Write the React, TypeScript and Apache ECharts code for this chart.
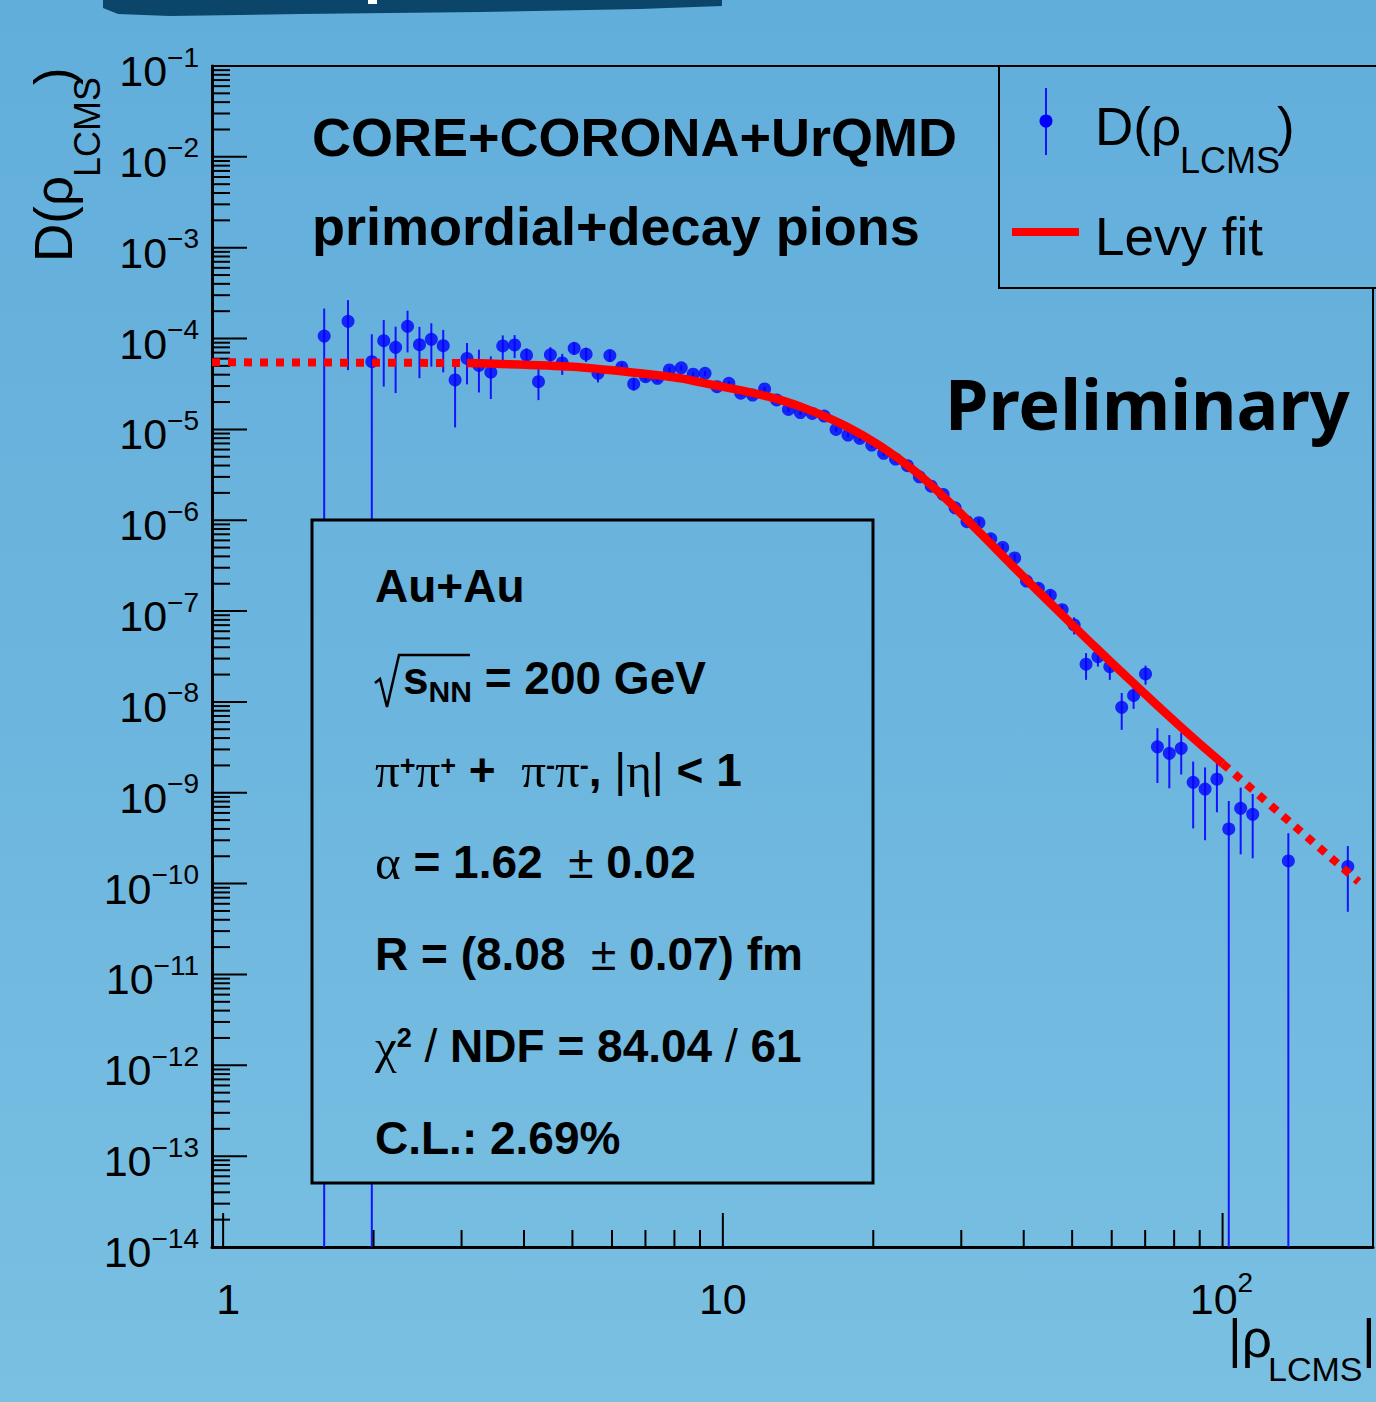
import React, { useEffect, useRef } from "react";
import * as echarts from "echarts";

// ---- axis ranges ----
const X_MIN = 0.95;
const X_MAX = 200;
const Y_MIN = 1e-14;
const Y_MAX = 1e-1;

// ---- measured D(rho_LCMS): bin centres, values, symmetric errors ----
const RHO_BINS = [
  1.593, 1.778, 1.984, 2.096, 2.214, 2.339, 2.471, 2.61, 2.757, 2.912,
  3.076, 3.25, 3.433, 3.627, 3.831, 4.047, 4.276, 4.517, 4.771, 5.04,
  5.325, 5.625, 5.942, 6.277, 6.631, 7.004, 7.4, 7.816, 8.257, 8.722,
  9.213, 9.734, 10.28, 10.86, 11.47, 12.12, 12.81, 13.53, 14.29, 15.1,
  15.95, 16.85, 17.8, 18.8, 19.86, 20.98, 22.16, 23.41, 24.73, 26.12,
  27.6, 29.16, 30.8, 32.54, 34.37, 36.31, 38.36, 40.52, 42.81, 45.22,
  47.75, 50.46, 53.31, 56.31, 59.48, 62.83, 66.37, 70.12, 74.07, 78.24,
  82.65, 87.33, 92.25, 97.43, 102.9, 108.7, 114.9, 135.4, 178.1,
];
const D_VALUES = [
  1.066e-4, 1.549e-4, 5.56e-5, 9.46e-5, 8.01e-5, 1.364e-4, 8.56e-5, 9.81e-5, 8.34e-5, 3.5e-5,
  6.03e-5, 5.05e-5, 4.26e-5, 8.28e-5, 8.5e-5, 6.56e-5, 3.35e-5, 6.62e-5, 5.38e-5, 7.81e-5,
  6.73e-5, 4.14e-5, 6.49e-5, 4.83e-5, 3.16e-5, 3.8e-5, 3.65e-5, 4.51e-5, 4.76e-5, 4.05e-5,
  4.14e-5, 2.95e-5, 3.21e-5, 2.5e-5, 2.39e-5, 2.79e-5, 2.11e-5, 1.66e-5, 1.53e-5, 1.5e-5,
  1.4e-5, 1.0e-5, 8.67e-6, 7.98e-6, 6.73e-6, 5.46e-6, 4.72e-6, 3.98e-6, 3.01e-6, 2.37e-6,
  1.92e-6, 1.37e-6, 9.64e-7, 9.4e-7, 6.25e-7, 5.01e-7, 3.85e-7, 2.14e-7, 1.78e-7, 1.49e-7,
  1.035e-7, 7.03e-8, 2.6e-8, 3.15e-8, 2.44e-8, 8.73e-9, 1.178e-8, 2.03e-8, 3.21e-9, 2.72e-9,
  3.09e-9, 1.305e-9, 1.1e-9, 1.41e-9, 4.0e-10, 6.75e-10, 5.8e-10, 1.775e-10, 1.54e-10,
];
const D_ERRORS = [
  1.07e-4, 1.1e-4, 5.6e-5, 6.5e-5, 5.5e-5, 6.6e-5, 4.9e-5, 4.9e-5, 4.1e-5, 2.45e-5,
  2.9e-5, 2.5e-5, 2.1e-5, 2.55e-5, 2.4e-5, 1.25e-5, 1.25e-5, 1.4e-5, 1.4e-5, 1.2e-5,
  1.2e-5, 8.5e-6, 9.5e-6, 5.5e-6, 4.8e-6, 4.0e-6, 3.5e-6, 3.0e-6, 3.0e-6, 2.5e-6,
  2.5e-6, 2.0e-6, 2.0e-6, 1.5e-6, 1.5e-6, 1.5e-6, 1.2e-6, 1.0e-6, 9.0e-7, 9.0e-7,
  8.0e-7, 6.0e-7, 5.0e-7, 5.0e-7, 4.5e-7, 3.8e-7, 3.3e-7, 3.0e-7, 2.4e-7, 1.9e-7,
  1.6e-7, 1.2e-7, 9.0e-8, 9.0e-8, 6.0e-8, 5.0e-8, 4.2e-8, 2.6e-8, 2.2e-8, 1.9e-8,
  1.2e-8, 1.5e-8, 8.5e-9, 7.0e-9, 6.9e-9, 3.8e-9, 3.4e-9, 4.8e-9, 1.93e-9, 1.6e-9,
  1.5e-9, 9.0e-10, 8.0e-10, 8.0e-10, 4.1e-10, 4.65e-10, 3.9e-10, 1.8e-10, 1.05e-10,
];

// ---- Levy fit: solid inside the fit range, dotted outside ----
const FIT_X = [
  3.075, 5.02, 6.84, 8.22, 9.57, 11.18, 13.03, 15.18, 17.73, 20.67,
  24.07, 28.11, 32.78, 38.16, 44.57, 55.26, 64.45, 75.12, 87.62, 100,
];
const FIT_Y = [
  5.38e-5, 4.9e-5, 4.14e-5, 3.65e-5, 3.08e-5, 2.6e-5, 2.11e-5, 1.57e-5, 1.07e-5, 6.56e-6,
  3.57e-6, 1.67e-6, 7.18e-7, 3.08e-7, 1.32e-7, 4.16e-8, 1.862e-8, 8.49e-9, 3.94e-9, 2.1e-9,
];
const FIT_LOW_X = [0.95, 3.075];
const FIT_LOW_Y = [5.48e-5, 5.38e-5];
const FIT_HIGH_X = [100, 187.2];
const FIT_HIGH_Y = [2.1e-9, 1.05e-10];

// ---- tick labels ----
const X_MAJOR = [1, 10, 100];
const X_TICK_BASE = ["1", "10", "10"];
const X_TICK_SUP = ["", "", "2"];
const X_TICK_DX = [5, 0, 1];
const Y_EXPONENTS = [-14, -13, -12, -11, -10, -9, -8, -7, -6, -5, -4, -3, -2, -1];
const Y_TICK_SUP = ["−14", "−13", "−12", "−11", "−10", "−9", "−8", "−7", "−6", "−5", "−4", "−3", "−2", "−1"];

// ---- annotation text ----
const HEADER_LINES = ["CORE+CORONA+UrQMD", "primordial+decay pions"];
const LEGEND_DATA = "D(ρ";
const LEGEND_SUB = "LCMS";
const LEGEND_FIT = "Levy fit";
const WATERMARK = "Preliminary";

const BG_STOPS = [
  { offset: 0, color: "#62aedb" },
  { offset: 0.5, color: "#6cb5de" },
  { offset: 1, color: "#79c0e2" },
];
const BG_CSS = "linear-gradient(180deg, #62aedb 0%, #6cb5de 50%, #79c0e2 100%)";
const BG_FILL = { type: "linear", x: 0, y: 0, x2: 0, y2: 1402, global: true, colorStops: BG_STOPS };

const SANS = "Liberation Sans";
const SERIF = "Liberation Serif";
const BLUE = "#0000ff";
const RED = "#ff0000";

const Y_TICK_RICH = {
  b: { fontFamily: SANS, fontSize: 43, lineHeight: 56, fill: "#000" },
  s: { fontFamily: SANS, fontSize: 28, lineHeight: 28, verticalAlign: "top", fill: "#000" },
};

const BOX_RICH = {
  b: { fontFamily: SANS, fontWeight: "bold", fontSize: 46, lineHeight: 56, fill: "#000" },
  n: { fontFamily: SANS, fontSize: 46, lineHeight: 56, fill: "#000" },
  g: { fontFamily: SERIF, fontSize: 49, lineHeight: 56, fill: "#000" },
  sp: { fontFamily: SANS, fontWeight: "bold", fontSize: 27, verticalAlign: "middle", padding: [0, 0, 8, 0], fill: "#000" },
  sq: { fontFamily: SANS, fontWeight: "bold", fontSize: 27, verticalAlign: "middle", padding: [0, 0, 16, 0], fill: "#000" },
  sub: { fontFamily: SANS, fontWeight: "bold", fontSize: 30, lineHeight: 22, verticalAlign: "bottom", fill: "#000" },
};

const STATS_LINES = [
  { x: 375, y: 586, text: "{b|Au+Au}" },
  { x: 403, y: 678, text: "{b|s}{sub|NN}{b| = 200 GeV}" },
  { x: 375, y: 770, text: "{g|π}{sp|+}{g|π}{sp|+}{b| + }{n| }{g|π}{sp|-}{g|π}{sp|-}{b|, }{n||}{g|η}{n||}{b| < 1}" },
  { x: 375, y: 862, text: "{g|α}{b| = 1.62 }{n| ±}{b| 0.02}" },
  { x: 375, y: 954, text: "{b|R = (8.08 }{n| ±}{b| 0.07) fm}" },
  { x: 375, y: 1046, text: "{g|χ}{sq|2}{n| / }{b|NDF = 84.04 }{n|/}{b| 61}" },
  { x: 375, y: 1138, text: "{b|C.L.: 2.69%}" },
];

function tickLine(x1: number, y1: number, x2: number, y2: number) {
  return { type: "line", shape: { x1, y1, x2, y2 }, style: { stroke: "#000", lineWidth: 2 } };
}

function plainText(x: number, y: number, text: string, size: number, align: string) {
  return {
    type: "text",
    x,
    y,
    style: { text, fontFamily: SANS, fontSize: size, fill: "#000", align, verticalAlign: "middle" },
  };
}

// Ticks and labels of the ROOT-style frame, placed through the axis scales.
function renderFrame(_params: any, api: any) {
  const children: any[] = [];
  for (let i = 0; i < Y_EXPONENTS.length; i++) {
    const e = Y_EXPONENTS[i];
    const v = Math.pow(10, e);
    const p = api.coord([X_MIN, v]);
    children.push(tickLine(p[0], p[1], p[0] + 35, p[1]));
    children.push({
      type: "text",
      x: p[0] - 13,
      y: p[1] + 5,
      style: { text: `{b|10}{s|${Y_TICK_SUP[i]}}`, align: "right", verticalAlign: "middle", rich: Y_TICK_RICH },
    });
    if (e < Math.log10(Y_MAX)) {
      for (let m = 2; m <= 9; m++) {
        const q = api.coord([X_MIN, m * v]);
        children.push(tickLine(q[0], q[1], q[0] + 18, q[1]));
      }
    }
  }
  for (let i = 0; i < X_MAJOR.length; i++) {
    const v = X_MAJOR[i];
    const p = api.coord([v, Y_MIN]);
    children.push(tickLine(p[0], p[1], p[0], p[1] - 34));
    if (X_TICK_SUP[i]) {
      children.push(plainText(p[0] + 15, p[1] + 52, X_TICK_BASE[i], 43, "right"));
      children.push(plainText(p[0] + 15, p[1] + 35, X_TICK_SUP[i], 28, "left"));
    } else {
      children.push(plainText(p[0] + X_TICK_DX[i], p[1] + 52, X_TICK_BASE[i], 43, "center"));
    }
    for (let m = 2; m <= 9; m++) {
      if (m * v >= X_MAX) continue;
      const q = api.coord([m * v, Y_MIN]);
      children.push(tickLine(q[0], q[1], q[0], q[1] - 17));
    }
  }
  return { type: "group", children };
}

function renderErrorBar(_params: any, api: any) {
  const x = api.value(0);
  const y = api.value(1);
  const e = api.value(2);
  const lo = y - e > Y_MIN ? y - e : Y_MIN;
  const top = api.coord([x, y + e]);
  const bot = api.coord([x, lo]);
  return {
    type: "line",
    shape: { x1: top[0], y1: top[1], x2: bot[0], y2: bot[1] },
    style: { stroke: "#1414ff", lineWidth: 2 },
  };
}

function buildOption() {
  const points = RHO_BINS.map((x, i) => [x, D_VALUES[i], D_ERRORS[i]]);
  const pair = (xs: number[], ys: number[]) => xs.map((x, i) => [x, ys[i]]);

  const txt = (x: number, y: number, text: string, size: number, extra: any = {}) => ({
    type: "text",
    x,
    y,
    z: 60,
    ...extra,
    style: {
      text,
      fontFamily: SANS,
      fontSize: size,
      fill: "#000",
      align: "left",
      verticalAlign: "middle",
      ...(extra.style || {}),
    },
  });

  return {
    animation: false,
    grid: {
      left: 212,
      right: 3,
      top: 66,
      bottom: 155,
      show: true,
      borderColor: "#000",
      borderWidth: 2,
      backgroundColor: "transparent",
      containLabel: false,
      outerBoundsMode: "none",
    },
    xAxis: {
      type: "log",
      logBase: 10,
      min: X_MIN,
      max: X_MAX,
      axisLine: { show: true, lineStyle: { color: "#000", width: 3 } },
      axisTick: { show: false },
      axisLabel: { show: false },
      splitLine: { show: false },
    },
    yAxis: {
      type: "log",
      logBase: 10,
      min: Y_MIN,
      max: Y_MAX,
      axisLine: { show: true, lineStyle: { color: "#000", width: 3 } },
      axisTick: { show: false },
      axisLabel: { show: false },
      splitLine: { show: false },
    },
    series: [
      {
        type: "custom",
        name: "frame",
        silent: true,
        clip: false,
        z: 5,
        data: [[1, 1e-7]],
        renderItem: renderFrame,
      },
      {
        type: "custom",
        name: "errors",
        silent: true,
        clip: false,
        z: 3,
        dimensions: ["x", "y", "err"],
        encode: { x: 0, y: 1 },
        data: points,
        renderItem: renderErrorBar,
      },
      {
        type: "scatter",
        name: "D",
        symbol: "circle",
        symbolSize: 13,
        itemStyle: { color: BLUE },
        z: 4,
        data: points.map((p) => [p[0], p[1]]),
      },
      {
        type: "line",
        name: "fit-low",
        showSymbol: false,
        z: 6,
        lineStyle: { color: RED, width: 8, type: [8, 8], cap: "butt" },
        data: pair(FIT_LOW_X, FIT_LOW_Y),
      },
      {
        type: "line",
        name: "fit",
        showSymbol: false,
        smooth: 0.25,
        z: 6,
        lineStyle: { color: RED, width: 8.5, cap: "butt" },
        data: pair(FIT_X, FIT_Y),
      },
      {
        type: "line",
        name: "fit-high",
        showSymbol: false,
        z: 6,
        lineStyle: { color: RED, width: 8, type: [8, 8], cap: "butt" },
        data: pair(FIT_HIGH_X, FIT_HIGH_Y),
      },
    ],
    graphic: [
      // slide banner edge at the top
      {
        type: "polygon",
        z: 1,
        shape: {
          points: [
            [103, 0], [722, 0], [722, 6], [640, 9], [480, 12], [300, 14], [170, 16], [118, 14], [103, 8],
          ],
        },
        style: { fill: "#0b456a" },
      },
      { type: "rect", z: 2, shape: { x: 368, y: 0, width: 9, height: 4 }, style: { fill: "#ffffff" } },

      // header text
      txt(312, 137, HEADER_LINES[0], 54, { style: { fontWeight: "bold" } }),
      txt(312, 226, HEADER_LINES[1], 54, { style: { fontWeight: "bold" } }),
      txt(945, 403, WATERMARK, 70, { style: { fontWeight: "bold", fontFamily: "Noto Sans" } }),

      // y title, reading upwards
      txt(53, 262, "D(ρ", 53, { rotation: Math.PI / 2 }),
      txt(87, 177, "LCMS", 36, { rotation: Math.PI / 2 }),
      txt(53, 85, ")", 53, { rotation: Math.PI / 2 }),

      // x title
      txt(1228, 1338, "|ρ", 53, { style: { lineHeight: 32 } }),
      txt(1268, 1369, "LCMS", 34, { style: { lineHeight: 26 } }),
      txt(1362, 1338, "|", 53, { style: { lineHeight: 32 } }),

      // legend
      {
        type: "rect",
        z: 50,
        shape: { x: 999, y: 66, width: 400, height: 222 },
        style: { fill: BG_FILL, stroke: "#000", lineWidth: 2 },
      },
      { type: "line", z: 55, shape: { x1: 1046, y1: 88, x2: 1046, y2: 155 }, style: { stroke: "#1414ff", lineWidth: 2 } },
      { type: "circle", z: 56, shape: { cx: 1046, cy: 121, r: 6.5 }, style: { fill: BLUE } },
      { type: "line", z: 55, shape: { x1: 1012, y1: 232, x2: 1079, y2: 232 }, style: { stroke: RED, lineWidth: 8 } },
      txt(1095, 126, LEGEND_DATA, 53),
      txt(1180, 160, LEGEND_SUB, 36),
      txt(1277, 126, ")", 53),
      txt(1095, 236, LEGEND_FIT, 53),

      // fit summary box
      {
        type: "rect",
        z: 50,
        shape: { x: 312, y: 520, width: 561, height: 663 },
        style: { fill: BG_FILL, stroke: "#000", lineWidth: 3 },
      },
      {
        type: "polyline",
        z: 60,
        shape: { points: [[375, 683], [380, 679], [387, 707], [399, 655], [470, 655]] },
        style: { stroke: "#000", lineWidth: 2.5, fill: null },
      },
      ...STATS_LINES.map((l) => ({
        type: "text",
        z: 60,
        x: l.x,
        y: l.y,
        style: { text: l.text, align: "left", verticalAlign: "middle", rich: BOX_RICH },
      })),
    ],
  };
}

export default function App() {
  const ref = useRef<HTMLDivElement>(null);
  useEffect(() => {
    document.body.style.margin = "0";
    if (!ref.current) return;
    const chart = echarts.init(ref.current, null, { renderer: "svg" });
    chart.setOption(buildOption() as any);
    return () => chart.dispose();
  }, []);
  return <div ref={ref} style={{ width: 1376, height: 1402, background: BG_CSS }} />;
}
